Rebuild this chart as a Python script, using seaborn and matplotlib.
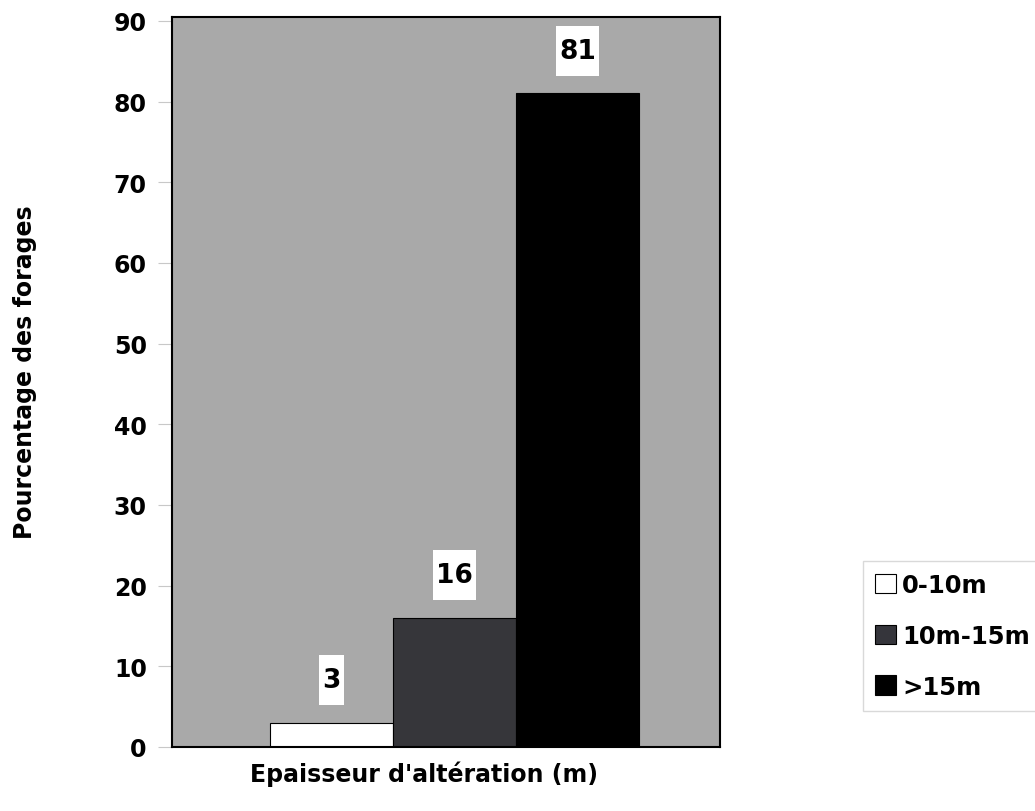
import matplotlib
matplotlib.use("Agg")
import matplotlib.pyplot as plt
import seaborn as sns
import pandas as pd
from matplotlib.patches import Patch
from matplotlib.path import Path

categories = ["0-10m", "10m-15m", ">15m"]
values = [3, 16, 81]
colors = ["#ffffff", "#35353b", "#000000"]
yticks = [0, 10, 20, 30, 40, 50, 60, 70, 80, 90]

sns.set_theme(style="white")
plt.rcParams['font.family'] = ['DejaVu Sans']
plt.rcParams['text.color'] = 'black'
plt.rcParams['axes.labelcolor'] = 'black'
plt.rcParams['ytick.labelcolor'] = 'black'

df = pd.DataFrame({"cat": categories, "val": values})

fig = plt.figure(figsize=(10.35, 8.12), dpi=100)
ax = fig.add_axes([0.166, 0.079, 0.530, 0.899])
ax.set_facecolor("#a9a9a9")

sns.barplot(data=df, x="cat", y="val", hue="cat", palette=colors,
            width=1.0, edgecolor="#000000", linewidth=0.8, legend=False, ax=ax)


def tall_box(x0, y0, width, height, mutation_size):
    px = 0.12 * mutation_size
    py = 0.45 * mutation_size
    x0, y0 = x0 - px, y0 - py
    x1, y1 = x0 + width + 2 * px, y0 + height + 2 * py
    return Path([(x0, y0), (x1, y0), (x1, y1), (x0, y1), (x0, y0)], closed=True)


for i, v in enumerate(values):
    ax.text(i, v + 5.3, str(v), ha="center", va="center", fontsize=19,
            fontweight="bold", color="black",
            bbox=dict(boxstyle=tall_box, facecolor="white", edgecolor="none"))

ax.set_xlim(-1.3, 3.16)
ax.set_ylim(0, 90.5)
ax.set_yticks(yticks)
ax.set_yticklabels([str(t) for t in yticks], fontsize=17, fontweight="bold",
                   color="black")
ax.set_xticks([])
ax.tick_params(axis="y", left=True, length=10, width=0.8, color="#c8c8c8", pad=8)
ax.set_xlabel("Epaisseur d'altération (m)", fontsize=17, fontweight="bold",
              labelpad=10, x=0.46, color="black")
ax.set_ylabel("Pourcentage des forages", fontsize=17, fontweight="bold",
              labelpad=55, y=0.515, color="black")
for s in ax.spines.values():
    s.set_color("black")
    s.set_linewidth(1.5)

handles = [Patch(facecolor=c, edgecolor="black", linewidth=0.8) for c in colors]
leg = fig.legend(handles, categories, loc="upper left", bbox_to_anchor=(0.834, 0.308),
                 frameon=True, prop={"weight": "bold", "size": 17.5},
                 handlelength=0.85, handleheight=0.85, handletextpad=0.25,
                 labelspacing=1.1, borderpad=0.5, borderaxespad=0,
                 edgecolor="#d0d0d0", fancybox=False)
for t in leg.get_texts():
    t.set_color("black")

fig.savefig("out.png", dpi=100)
